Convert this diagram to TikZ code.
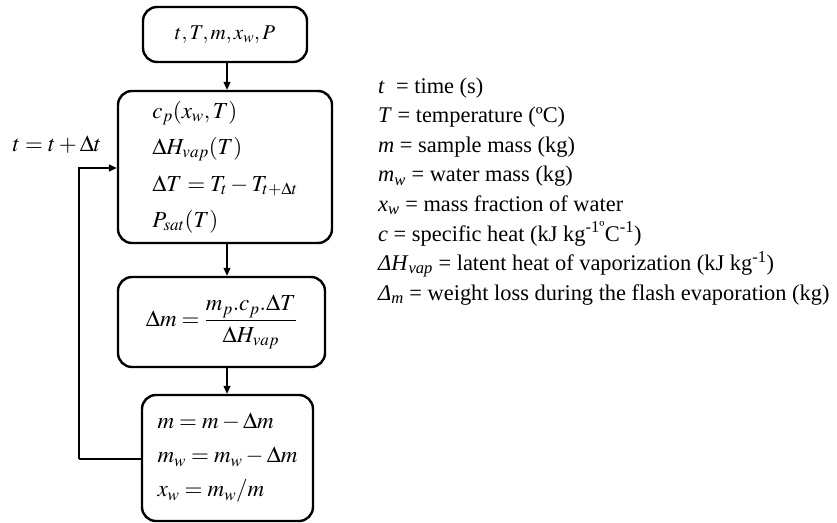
\documentclass[tikz,border=0pt]{standalone}
\usepackage{mathptmx}
\usepackage{fontspec}
\setmainfont{Liberation Serif}
\usetikzlibrary{arrows.meta}
\tikzset{
  stage/.style={draw,line width=2.4pt,rounded corners=14pt,inner sep=0pt},
  flow/.style={line width=1.3pt,-{Triangle[length=8pt,width=7pt]}},
  legline/.style={anchor=base west,inner sep=0pt,font=\fontsize{22.4}{26}\selectfont},
}
\begin{document}
\begin{tikzpicture}[x=1pt,y=-1pt,every node/.style={font=\fontsize{23}{36.5}\selectfont}]
\useasboundingbox (0,0) rectangle (837,522);
% flow chart
\node[stage,minimum width=164pt,minimum height=55pt,font=\fontsize{21}{26}\selectfont] (init) at (225,34.5) {$t,T,m,x_w,P$};
\node[stage,minimum width=214pt,minimum height=152pt,align=left] (props) at (225,167)
  {$c_p(x_w,T)$\\$\Delta H_{vap}(T)$\\$\Delta T=T_t-T_{t+\Delta t}$\\$P_{sat}(T)$};
\node[stage,minimum width=207pt,minimum height=90pt] (dmass) at (221.5,322)
  {$\displaystyle\Delta m=\frac{m_p.c_p.\Delta T}{\Delta H_{vap}}$};
\node[stage,minimum width=171pt,minimum height=126pt,align=left,font=\fontsize{23}{34}\selectfont] (update) at (227.5,458)
  {$m=m-\Delta m$\\$m_w=m_w-\Delta m$\\$x_w=m_w/m$};
\draw[flow] (init.south -| 227,0) -- (props.north -| 227,0);
\draw[flow] (props.south -| 227,0) -- (dmass.north -| 227,0);
\draw[flow] (dmass.south -| 227,0) -- (update.north -| 227,0);
% loop back
\coordinate (loop) at (79,459);
\draw[line width=1.3pt] (update.west |- loop) -- (loop);
\draw[flow] (loop) |- (props.west |- 0,168);
\node (tlabel) at (57,145) {$t=t+\Delta t$};
% legend
\foreach \txt [count=\i from 0] in {
  {\textit{t}\ \ = time (s)},
  {\textit{T} = temperature (ºC)},
  {\textit{m} = sample mass (kg)},
  {\textit{m}\textsubscript{\textit{w}} = water mass (kg)},
  {\textit{x}\textsubscript{\textit{w}} = mass fraction of water},
  {\textit{c} = specific heat (kJ kg\textsuperscript{-1º}C\textsuperscript{-1})},
  {\textit{ΔH}\textsubscript{\textit{vap}} = latent heat of vaporization (kJ kg\textsuperscript{-1})},
  {\textit{Δ}\textsubscript{\textit{m}} = weight loss during the flash evaporation (kg)}}
  \node[legline] (leg\i) at (378,93+29.6*\i) {\txt};
\end{tikzpicture}
\end{document}
